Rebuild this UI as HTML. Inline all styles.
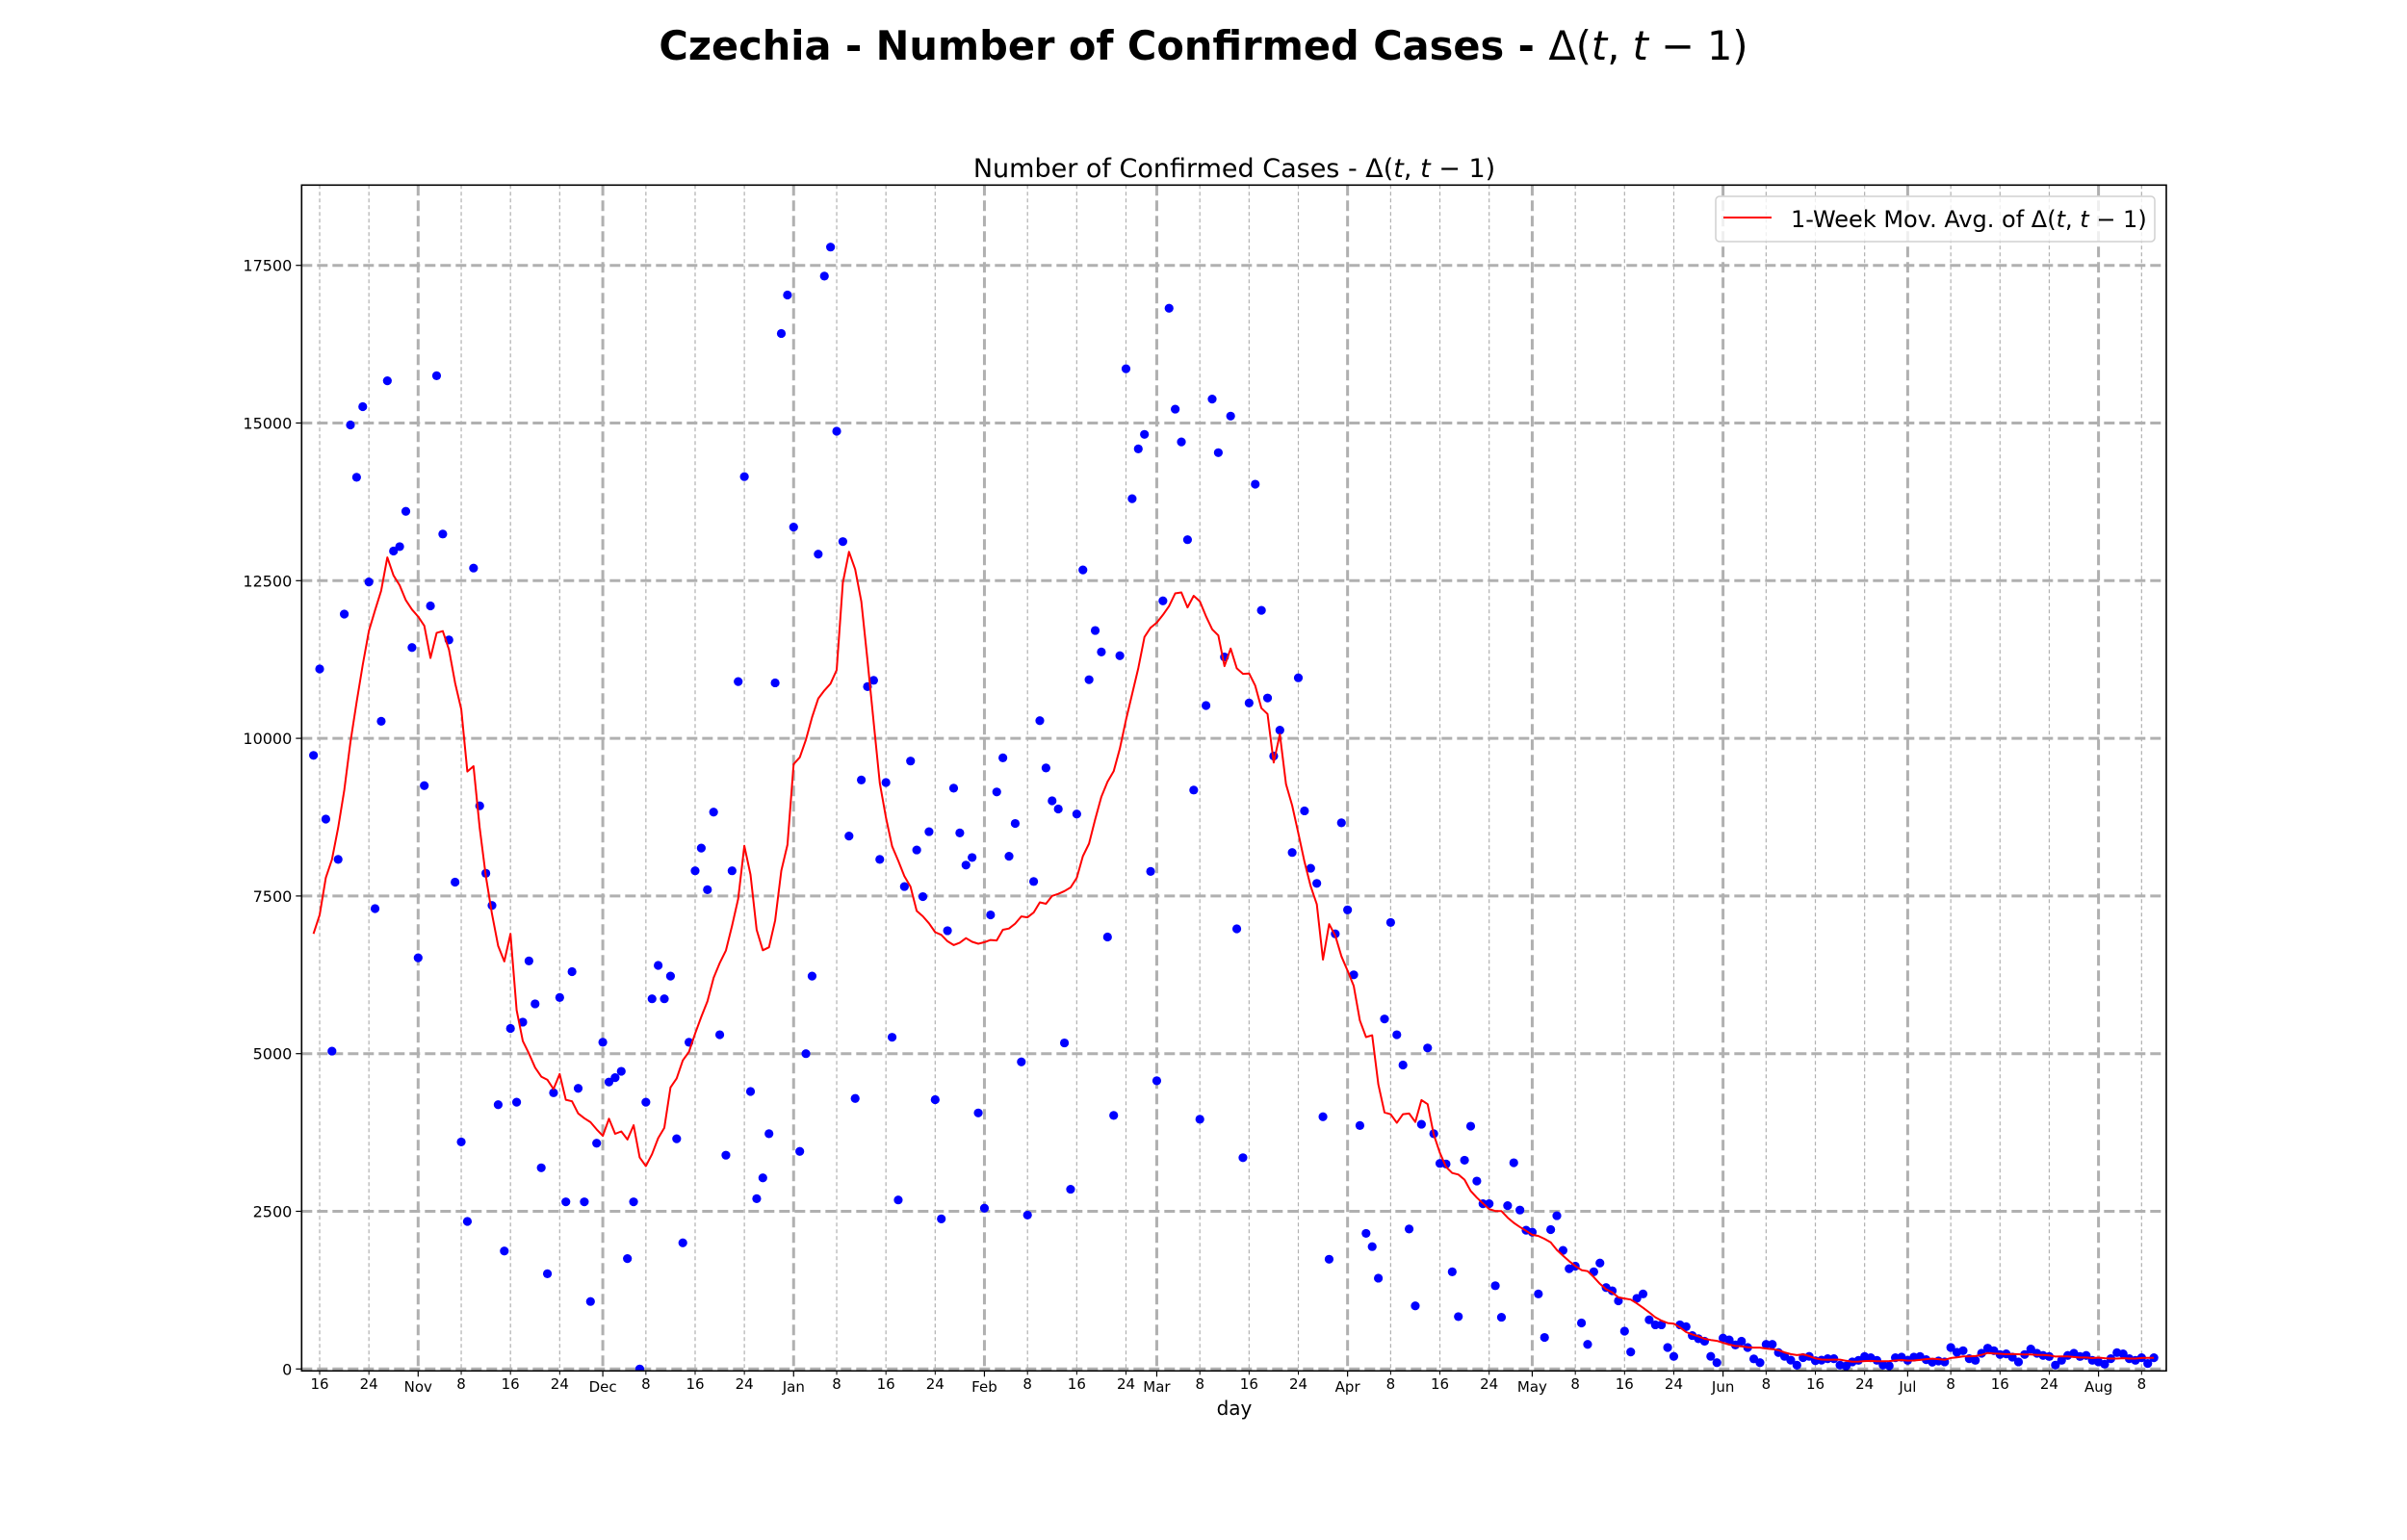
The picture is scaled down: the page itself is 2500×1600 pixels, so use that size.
<!DOCTYPE html>
<html><head><meta charset="utf-8"><style>
body{margin:0;background:#fff;}
svg{display:block;font-family:"DejaVu Sans","Liberation Sans",sans-serif;}
</style></head><body>
<svg id="chart" width="2500" height="1600" viewBox="0 0 2500 1600" xmlns="http://www.w3.org/2000/svg">
<defs><clipPath id="plotclip"><rect x="313.3" y="192.3" width="1936.7" height="1232"/></clipPath></defs>
<rect width="2500" height="1600" fill="#fff"/>
<text x="1250" y="62" text-anchor="middle" font-size="41.5" font-weight="bold">Czechia - Number of Confirmed Cases - <tspan font-weight="normal">Δ(</tspan><tspan font-weight="normal" font-style="italic">t</tspan><tspan font-weight="normal">, </tspan><tspan font-weight="normal" font-style="italic">t</tspan><tspan font-weight="normal"> − 1)</tspan></text>
<text x="1282" y="184" text-anchor="middle" font-size="27">Number of Confirmed Cases - Δ(<tspan font-style="italic">t</tspan>, <tspan font-style="italic">t</tspan> − 1)</text>
<g id="grid"></g>
<g id="marks" clip-path="url(#plotclip)"></g>
<rect x="313.3" y="192.3" width="1936.7" height="1232" fill="none" stroke="#000" stroke-width="1.6"/>
<g id="ticks"></g>
<text x="1282" y="1470" text-anchor="middle" font-size="20">day</text>
<g>
<rect x="1782" y="204" width="456" height="47" rx="4" fill="#fff" fill-opacity="0.8" stroke="#d0d0d0" stroke-width="1.5"/>
<line x1="1790" y1="226" x2="1840" y2="226" stroke="#f00" stroke-width="2"/>
<text x="1860" y="236" font-size="24">1-Week Mov. Avg. of Δ(<tspan font-style="italic">t</tspan>, <tspan font-style="italic">t</tspan> − 1)</text>
</g>
</svg>
<script>
// Daily confirmed cases starting 2020-10-15 (index 0)
const startOffset = -17; // days relative to Nov 1
const priorValues = [9000, 4590, 3010, 4580, 7770, 9620];
const dailyValues = [
9730,11100,8720,5040,8080,11970,14970,14140,15260,12480,7300,10270,15670,12970,13040,13600,11440,
6520,9250,12100,15750,13240,11560,7720,3600,2340,12700,8930,7860,7350,4190,1870,5400,4230,5500,6470,5790,3190,1510,4380,5890,2650,6300,4450,2650,1070,3580,
5180,4550,4620,4720,1750,2650,0,4230,5870,6400,5870,6230,3650,2000,5180,7900,8260,7600,8830,5300,3390,7900,10900,14150,4400,2700,3030,3730,10880,16420,17030,
13350,3450,5000,6230,12920,17330,17790,14870,13120,8450,4290,9340,10820,10920,8080,9300,5260,2680,7650,9640,8230,7490,8520,4270,2380,6950,9210,8500,7990,8110,4060,
2550,7200,9150,9690,8130,8650,4870,2440,7730,10280,9530,9010,8880,5170,2850,8800,12670,10930,11710,11370,6850,4020,11310,15860,13800,14590,14820,7890,
4570,12180,16820,15220,14700,13150,9180,3960,10520,15380,14530,11290,15110,6980,3350,10560,14030,12030,10640,9720,10130,-2200,8190,10960,8850,7940,7700,4000,1740,6900,8660,
7280,6250,3860,2150,1940,1440,5550,7080,5300,4820,2220,1000,3880,5090,3730,3260,3250,1540,830,3310,3850,2980,2620,2620,1320,820,2590,3270,2520,2200,2170,1190,500,2210,2430,1880,1590,1630,730,390,
1540,1680,1290,1240,1080,600,270,1120,1190,780,700,700,340,200,700,670,530,480,440,200,100,
490,460,380,440,340,160,100,390,390,260,200,140,60,180,200,130,140,163,163,61,46,112,137,198,178,137,61,51,178,188,
137,188,198,148,107,127,112,340,264,290,163,137,249,330,290,229,239,188,112,229,315,249,214,198,61,137,214,249,198,214,137,112,
76,163,259,239,163,137,178,87,178];
const yTicks = [0,2500,5000,7500,10000,12500,15000,17500];
const monthNames = ["Nov","Dec","Jan","Feb","Mar","Apr","May","Jun","Jul","Aug"];
const monthOffsets = [0,30,61,92,120,151,181,212,242,273]; // days from Nov 1
const dayLabels = [8,16,24];

const NS="http://www.w3.org/2000/svg";
const L=313.3,R=2250,T=192.3,B=1424.3;
const x0=434.3, pxPerDay=6.393;
function xScale(d){return x0+d*pxPerDay;}
function yScale(v){return 1422.3-v*0.06552;}
function mk(tag,attrs,parent){const e=document.createElementNS(NS,tag);for(const k in attrs)e.setAttribute(k,attrs[k]);parent.appendChild(e);return e;}
const grid=document.getElementById('grid'),marks=document.getElementById('marks'),ticks=document.getElementById('ticks');

const allMonthsOff=[-31].concat(monthOffsets);
for(let m=0;m<allMonthsOff.length;m++){for(const dl of dayLabels){const d=allMonthsOff[m]+dl-1;const x=xScale(d);if(x<L||x>R)continue;
const g=mk('line',{x1:x,x2:x,y1:T,y2:B,stroke:'#b0b0b0','stroke-width':1.2,'stroke-dasharray':'4,3'},grid);


const t=mk('text',{x:x,y:1443,'text-anchor':'middle','font-size':15},ticks);t.textContent=dl;


const tk=mk('line',{x1:x,x2:x,y1:B,y2:B+4,stroke:'#000','stroke-width':1},ticks);

}}
monthOffsets.forEach((d,i)=>{const x=xScale(d);
const g=mk('line',{x1:x,x2:x,y1:T,y2:B,stroke:'#b0b0b0','stroke-width':3,'stroke-dasharray':'11,5'},grid);


const t=mk('text',{x:x,y:1446,'text-anchor':'middle','font-size':15},ticks);t.textContent=monthNames[i];


const tk=mk('line',{x1:x,x2:x,y1:B,y2:B+6,stroke:'#000','stroke-width':1.2},ticks);

});
yTicks.forEach(v=>{const y=yScale(v);
const g=mk('line',{x1:L,x2:R,y1:y,y2:y,stroke:'#b0b0b0','stroke-width':3,'stroke-dasharray':'11,5'},grid);


const tk=mk('line',{x1:L-6,x2:L,y1:y,y2:y,stroke:'#000','stroke-width':1.2},ticks);


const t=mk('text',{x:L-10,y:y+6,'text-anchor':'end','font-size':16},ticks);t.textContent=v;

});

dailyValues.forEach((v,i)=>{const c=mk('circle',{cx:xScale(startOffset+i),cy:yScale(v),r:4.6,fill:'#0000ff'},marks);

});
const full=priorValues.concat(dailyValues);
let pts=[];
for(let i=0;i<dailyValues.length;i++){let s=0;for(let k=0;k<7;k++)s+=full[i+k];pts.push(xScale(startOffset+i).toFixed(1)+','+yScale(s/7).toFixed(1));}
const pl=mk('polyline',{points:pts.join(' '),fill:'none',stroke:'#ff0000','stroke-width':2,'stroke-linejoin':'round'},marks);


</script>
</body></html>
